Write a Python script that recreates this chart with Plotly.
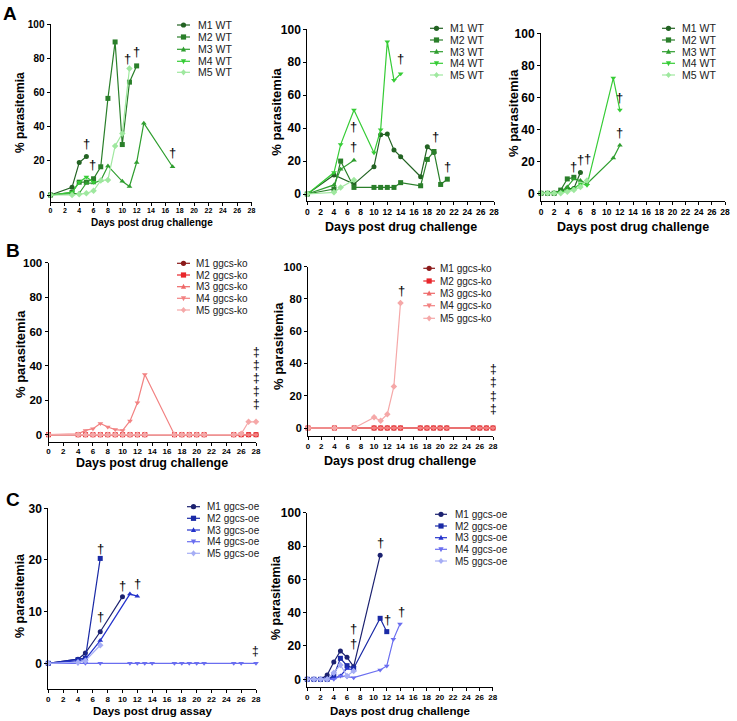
import plotly.graph_objects as go

W, H = 737, 721
FONT = "Liberation Sans, Arial, Helvetica, sans-serif"

# ---------------- data ----------------
day_ticks = [0, 2, 4, 6, 8, 10, 12, 14, 16, 18, 20, 22, 24, 26, 28]
pct_ticks_100 = [0, 20, 40, 60, 80, 100]
pct_ticks_30 = [0, 10, 20, 30]

wt_labels = ["M1 WT", "M2 WT", "M3 WT", "M4 WT", "M5 WT"]
ko_labels = ["M1 ggcs-ko", "M2 ggcs-ko", "M3 ggcs-ko", "M4 ggcs-ko", "M5 ggcs-ko"]
oe_labels = ["M1 ggcs-oe", "M2 ggcs-oe", "M3 ggcs-oe", "M4 ggcs-oe", "M5 ggcs-oe"]

wt_colors = ["#236323", "#2a7f2a", "#2f9e2f", "#36cc36", "#9fe89f"]
ko_colors = ["#8b1a1a", "#e8262b", "#ee6868", "#f28282", "#f5a8a8"]
oe_colors = ["#1c2270", "#1a2aa6", "#2433cc", "#6a6ef0", "#a6aef5"]
symbols = ["circle", "square", "triangle-up", "triangle-down", "diamond"]

# Panel A1 (WT, experiment 1)
a1_days = [
    [0, 3, 4, 5],
    [0, 3, 4, 5, 6, 7, 8, 9, 10, 11, 12],
    [0, 3, 4, 5, 6, 7, 8, 10, 11, 12, 13, 17],
    [0, 3, 4, 5, 6],
    [0, 3, 4, 5, 6, 7, 8, 9, 10, 11],
]
a1_vals = [
    [0, 4.5, 19, 22.5],
    [0, 1.5, 7.5, 7.5, 9.5, 16.5, 56.5, 89.5, 29.5, 66, 75.5],
    [0, 1, 1, 7, 7, 8.5, 17, 8, 5, 19, 42, 16.5],
    [0, 1.5, 7.5, 10.5, 7.5],
    [0, 0, 0.5, 1, 2.5, 8.5, 8.8, 28.7, 36, 74],
]
a1_dag_x = [5, 5.8, 10.7, 12, 17]
a1_dag_y = [30, 18, 80, 84, 25]

# Panel A2 (WT, experiment 2)
a2_days = [
    [0, 4, 7, 10, 11, 12, 13, 14, 17, 18, 19],
    [0, 4, 5, 7, 10, 11, 12, 13, 14, 17, 18, 19, 20, 21],
    [0, 4, 5, 7],
    [0, 4, 5, 7, 10, 11, 12, 13, 14],
    [0, 4, 5, 7],
]
a2_vals = [
    [0, 11.5, 6, 16.6, 36, 36.4, 26.7, 22.6, 10.5, 28.7, 25.2],
    [0, 3, 20, 4, 4, 4, 4, 4, 6.9, 5, 21, 25.8, 5.8, 9],
    [0, 5.5, 15, 20.5],
    [0, 13, 30, 51, 25, 39, 92.5, 69, 73],
    [0, 1, 4, 8.5],
]
a2_dag_x = [7, 7, 14, 19.3, 21]
a2_dag_y = [41, 29, 82, 34.7, 16.5]

# Panel A3 (WT, experiment 3)
a3_days = [
    [0, 1, 2, 3, 4, 5, 6],
    [0, 1, 2, 3, 4, 5],
    [0, 1, 2, 3, 4, 5, 6, 7, 11, 12],
    [0, 1, 2, 3, 4, 5, 6, 7, 11, 12],
    [0, 1, 2, 3, 4, 5, 6, 7],
]
a3_vals = [
    [0, 0, 0, 1, 3, 3, 13],
    [0, 0, 0, 2, 9, 10],
    [0, 0, 0.5, 1, 4, 9, 8, 6, 22, 30],
    [0, 0, 0, 0.5, 2, 3, 6, 5, 72, 52],
    [0, 0, 0, 0, 1, 2, 4, 8],
]
a3_dag_x = [5, 6, 7, 12, 12]
a3_dag_y = [17, 21, 22, 60, 38]

# Panel B1 (ggcs-ko, experiment 1)
b1_days_all = [0, 4, 5, 6, 7, 8, 9, 10, 11, 12, 13, 17, 18, 19, 20, 21, 25, 26, 27, 28]
b1_m1 = [0, 0, 0, 0, 0, 0, 0, 0, 0, 0, 0, 0, 0, 0, 0, 0, 0, 0, 0, 0]
b1_m2 = [0, 0, 0, 0, 0, 0, 0, 0, 0, 0, 0, 0, 0, 0, 0, 0, 0, 0, 0, 0]
b1_m3 = [0, 0, 0, 0, 0, 0, 0, 0, 0, 0, 0, 0, 0, 0, 0, 0, 0, 0, 0, 0]
b1_m4 = [0, 0.5, 2.5, 3.5, 6.5, 4.5, 3, 2.5, 8, 18.6, 35, 0, 0, 0, 0, 0, 0, 0, 0, 0]
b1_m5 = [0, 0, 0, 0, 0, 0, 0, 0, 0, 0, 0, 0, 0, 0, 0, 0, 0, 0.5, 7.5, 7.5]
b1_dd_y = [48, 40.5, 33, 25.4, 17.8]

# Panel B2 (ggcs-ko, experiment 2)
b2_days_all = [0, 4, 7, 10, 11, 12, 13, 14, 17, 18, 19, 20, 21, 25, 26, 27, 28]
b2_m1 = [0, 0, 0, 0, 0, 0, 0, 0, 0, 0, 0, 0, 0, 0, 0, 0, 0]
b2_m2 = [0, 0, 0, 0, 0, 0, 0, 0, 0, 0, 0, 0, 0, 0, 0, 0, 0]
b2_m3 = [0, 0, 0, 0, 0, 0, 0, 0, 0, 0, 0, 0, 0, 0, 0, 0, 0]
b2_m4 = [0, 0, 0, 0, 0, 0, 0, 0, 0, 0, 0, 0, 0, 0, 0, 0, 0]
b2_m5_days = [0, 4, 7, 10, 11, 12, 13, 14]
b2_m5 = [0, 0, 0, 6.6, 4.5, 8.6, 25.8, 77.5]
b2_dag_x = [14.1]
b2_dag_y = [85]
b2_dd_y = [36.5, 28.5, 20, 11.6]

# Panel C1 (ggcs-oe, drug assay)
c1_days = [
    [0, 4, 5, 7, 10],
    [0, 4, 5, 7],
    [0, 4, 5, 7, 11, 12],
    [0, 4, 5, 7, 11, 12, 13, 14, 17, 18, 19, 20, 21, 25, 26, 28],
    [0, 4, 5, 7],
]
c1_vals = [
    [0, 0.8, 2, 6.1, 12.9],
    [0, 0.7, 1, 20.3],
    [0, 0.5, 0.8, 4.4, 13.4, 13],
    [0, 0, 0, 0, 0, 0, 0, 0, 0, 0, 0, 0, 0, 0, 0, 0],
    [0, 0.2, 0.5, 3.5],
]
c1_dag_x = [7, 7, 10, 12]
c1_dag_y = [22.3, 9, 15, 15.5]
c1_dd_y = [2.3]

# Panel C2 (ggcs-oe, drug challenge)
c2_days = [
    [0, 1, 2, 3, 4, 5, 6, 7, 11],
    [0, 1, 2, 3, 4, 5, 6, 7, 11, 12],
    [0, 1, 2, 3, 4, 5, 6, 7],
    [0, 1, 2, 3, 4, 5, 6, 7, 11, 12, 13, 14],
    [0, 1, 2, 3, 4, 5, 6, 7],
]
c2_vals = [
    [0, 0, 0, 2.6, 10.4, 17, 13.2, 7.6, 74.4],
    [0, 0, 0, 0, 2, 12.6, 8.2, 6.6, 36.6, 28.6],
    [0, 0, 0, 0, 0.8, 2, 6.5, 5.6],
    [0, 0, 0, 0, 0, 2, 1.5, 1, 5.6, 8, 24, 33.2],
    [0, 0, 0, 0, 4, 8.6, 2, 5],
]
c2_dag_x = [7, 7, 11.1, 12.1, 14.2]
c2_dag_y = [30.6, 21.6, 82, 36, 40.6]

# ---------------- layout helpers ----------------
def PX(x):
    return x / W

def PY(y):
    return 1 - y / H

fig = go.Figure()
annotations = []
shapes = []

def axis_names(i):
    s = "" if i == 1 else str(i)
    return "x" + s, "y" + s, "xaxis" + s, "yaxis" + s

def setup_panel(i, x0, x1, ytop, yzero, ymax, ymin, yticks, xfs, yfs):
    xr, yr, xk, yk = axis_names(i)
    ppu = (yzero - ytop) / ymax
    ybot = yzero - ymin * ppu
    common = dict(showline=True, linecolor="black", linewidth=1, ticks="outside",
                  ticklen=3, tickwidth=1, tickcolor="black", showgrid=False,
                  zeroline=False, automargin=False, fixedrange=True)
    fig.layout[xk] = dict(domain=[PX(x0), PX(x1)], range=[0, 28], tickmode="array",
                          tickvals=day_ticks, anchor=yr, ticklabelstandoff=-1,
                          tickfont=dict(family=FONT, size=xfs, color="black", weight="bold"),
                          **common)
    fig.layout[yk] = dict(domain=[PY(ybot), PY(ytop)], range=[ymin, ymax], tickmode="array",
                          tickvals=yticks, anchor=xr,
                          tickfont=dict(family=FONT, size=yfs, color="black", weight="bold"),
                          **common)
    return xr, yr

def add_series(xr, yr, days, vals, color, sym, msize=5):
    fig.add_trace(go.Scatter(x=days, y=vals, mode="lines+markers", xaxis=xr, yaxis=yr,
                             line=dict(color=color, width=1.2),
                             marker=dict(symbol=sym, size=msize, color=color, line=dict(width=0)),
                             cliponaxis=False, showlegend=False, hoverinfo="skip"))

def add_marks(xr, yr, xs, ys, txt, size=13):
    for x, y in zip(xs, ys):
        annotations.append(dict(x=x, y=y, xref=xr, yref=yr, text=txt, showarrow=False,
                                xanchor="center", yanchor="middle",
                                font=dict(family=FONT, size=size, color="black")))

def ytitle(xc, yc, size):
    annotations.append(dict(x=PX(xc), y=PY(yc), xref="paper", yref="paper", text="% parasitemia",
                            textangle=-90, showarrow=False, xanchor="center", yanchor="middle",
                            font=dict(family=FONT, size=size, color="black", weight="bold")))

def xtitle(xc, yc, text, size):
    annotations.append(dict(x=PX(xc), y=PY(yc), xref="paper", yref="paper", text=text,
                            showarrow=False, xanchor="center", yanchor="middle",
                            font=dict(family=FONT, size=size, color="black", weight="bold")))

def marker_shape(cx, cy, sym, color, r=2.6):
    base = dict(xref="paper", yref="paper", xsizemode="pixel", ysizemode="pixel",
                xanchor=PX(cx), yanchor=PY(cy), fillcolor=color, line=dict(width=0))
    if sym == "circle":
        shapes.append(dict(type="circle", x0=-r, x1=r, y0=-r, y1=r, **base))
    elif sym == "square":
        shapes.append(dict(type="rect", x0=-r, x1=r, y0=-r, y1=r, **base))
    elif sym == "triangle-up":
        shapes.append(dict(type="path", path=f"M {-r},{-r*0.8} L {r},{-r*0.8} L 0,{r*1.1} Z", **base))
    elif sym == "triangle-down":
        shapes.append(dict(type="path", path=f"M {-r},{r*0.8} L {r},{r*0.8} L 0,{-r*1.1} Z", **base))
    else:
        shapes.append(dict(type="path", path=f"M 0,{r*1.2} L {r},0 L 0,{-r*1.2} L {-r},0 Z", **base))

def legend(lx0, lx1, tx, rows, labels, colors, fs):
    for lab, col, sym, ry in zip(labels, colors, symbols, rows):
        shapes.append(dict(type="line", xref="paper", yref="paper", x0=PX(lx0), x1=PX(lx1),
                           y0=PY(ry), y1=PY(ry), line=dict(color=col, width=1.2)))
        marker_shape((lx0 + lx1) / 2, ry, sym, col)
        annotations.append(dict(x=PX(tx), y=PY(ry), xref="paper", yref="paper", text=lab,
                                showarrow=False, xanchor="left", yanchor="middle",
                                font=dict(family=FONT, size=fs, color="#222222")))

# ---------------- Panel A1 ----------------
xr, yr = setup_panel(1, 50.5, 251.5, 24, 195, 100, -4, pct_ticks_100, 7, 10)
for d, v, c, s in zip(a1_days, a1_vals, wt_colors, symbols):
    add_series(xr, yr, d, v, c, s)
add_marks(xr, yr, a1_dag_x, a1_dag_y, "†")
ytitle(20, 113, 12)
xtitle(152, 223, "Days post drug challenge", 10)
legend(177, 190, 196, [25, 37, 49.3, 61.3, 72.3], wt_labels, wt_colors, 10.5)

# ---------------- Panel A2 ----------------
xr, yr = setup_panel(2, 307.3, 494, 29.3, 194, 100, -4.5, pct_ticks_100, 8.5, 12)
for d, v, c, s in zip(a2_days, a2_vals, wt_colors, symbols):
    add_series(xr, yr, d, v, c, s)
add_marks(xr, yr, a2_dag_x, a2_dag_y, "†")
ytitle(276.7, 112, 13)
xtitle(401, 226.7, "Days post drug challenge", 12.5)
legend(430, 443, 448, [28.3, 40, 51.7, 63.3, 75], wt_labels, wt_colors, 10.5)

# ---------------- Panel A3 ----------------
xr, yr = setup_panel(3, 541, 725, 33.3, 193.3, 100, -5, pct_ticks_100, 8.5, 12)
for d, v, c, s in zip(a3_days, a3_vals, wt_colors, symbols):
    add_series(xr, yr, d, v, c, s)
add_marks(xr, yr, a3_dag_x, a3_dag_y, "†")
ytitle(513, 113, 13)
xtitle(633, 226.7, "Days post drug challenge", 12.5)
legend(662, 675, 680, [28.3, 40, 51.7, 63.3, 75], wt_labels, wt_colors, 10.5)

# ---------------- Panel B1 ----------------
xr, yr = setup_panel(4, 48.5, 256, 262.7, 434.7, 100, -4, pct_ticks_100, 8, 11.5)
for v, c, s in zip([b1_m1, b1_m2, b1_m3, b1_m4, b1_m5], ko_colors, symbols):
    add_series(xr, yr, b1_days_all, v, c, s)
add_marks(xr, yr, [28] * len(b1_dd_y), b1_dd_y, "‡", 12)
ytitle(20, 354, 13)
xtitle(152, 463, "Days post drug challenge", 12.5)
legend(177, 190, 194, [263.3, 275, 286.7, 298.3, 310], ko_labels, ko_colors, 10)

# ---------------- Panel B2 ----------------
xr, yr = setup_panel(5, 308, 493, 266.7, 428, 100, -5, pct_ticks_100, 8, 11)
for v, c, s in zip([b2_m1, b2_m2, b2_m3, b2_m4], ko_colors, symbols):
    add_series(xr, yr, b2_days_all, v, c, s)
add_series(xr, yr, b2_m5_days, b2_m5, ko_colors[4], symbols[4])
add_marks(xr, yr, b2_dag_x, b2_dag_y, "†")
add_marks(xr, yr, [28] * len(b2_dd_y), b2_dd_y, "‡", 12)
ytitle(278, 346, 13)
xtitle(400, 461, "Days post drug challenge", 12.5)
legend(423.3, 435, 438, [268.3, 281, 293.3, 305.7, 318.3], ko_labels, ko_colors, 10)

# ---------------- Panel C1 ----------------
xr, yr = setup_panel(6, 48.3, 256, 508.3, 663.3, 30, -5, pct_ticks_30, 8, 12)
for d, v, c, s in zip(c1_days, c1_vals, oe_colors, symbols):
    add_series(xr, yr, d, v, c, s)
add_marks(xr, yr, c1_dag_x, c1_dag_y, "†")
add_marks(xr, yr, [28] * len(c1_dd_y), c1_dd_y, "‡", 12)
ytitle(20, 596, 12.5)
xtitle(152, 711, "Days post drug assay", 11.5)
legend(187, 200, 205, [506.7, 518.3, 530, 541.7, 553.3], oe_labels, oe_colors, 10)

# ---------------- Panel C2 ----------------
xr, yr = setup_panel(7, 307.3, 492.7, 512.7, 679.3, 100, -4.8, pct_ticks_100, 8, 12)
for d, v, c, s in zip(c2_days, c2_vals, oe_colors, symbols):
    add_series(xr, yr, d, v, c, s)
add_marks(xr, yr, c2_dag_x, c2_dag_y, "†")
ytitle(276, 598, 12.5)
xtitle(400, 711, "Days post drug challenge", 11.5)
legend(435, 447, 453, [514.3, 526, 537.7, 549.3, 561], oe_labels, oe_colors, 10)

# ---------------- panel letters ----------------
for letter, lx, ly in [("A", 9.5, 13.5), ("B", 13, 250), ("C", 13, 499)]:
    annotations.append(dict(x=PX(lx), y=PY(ly), xref="paper", yref="paper", text=letter,
                            showarrow=False, xanchor="center", yanchor="middle",
                            font=dict(family=FONT, size=19, color="black", weight="bold")))

fig.update_layout(width=W, height=H, margin=dict(l=0, r=0, t=0, b=0), template="none",
                  paper_bgcolor="white", plot_bgcolor="rgba(0,0,0,0)", showlegend=False,
                  annotations=annotations, shapes=shapes)

fig.write_html("out.html", config={"displayModeBar": False, "staticPlot": True},
               post_script="document.body.style.margin='0px';")
